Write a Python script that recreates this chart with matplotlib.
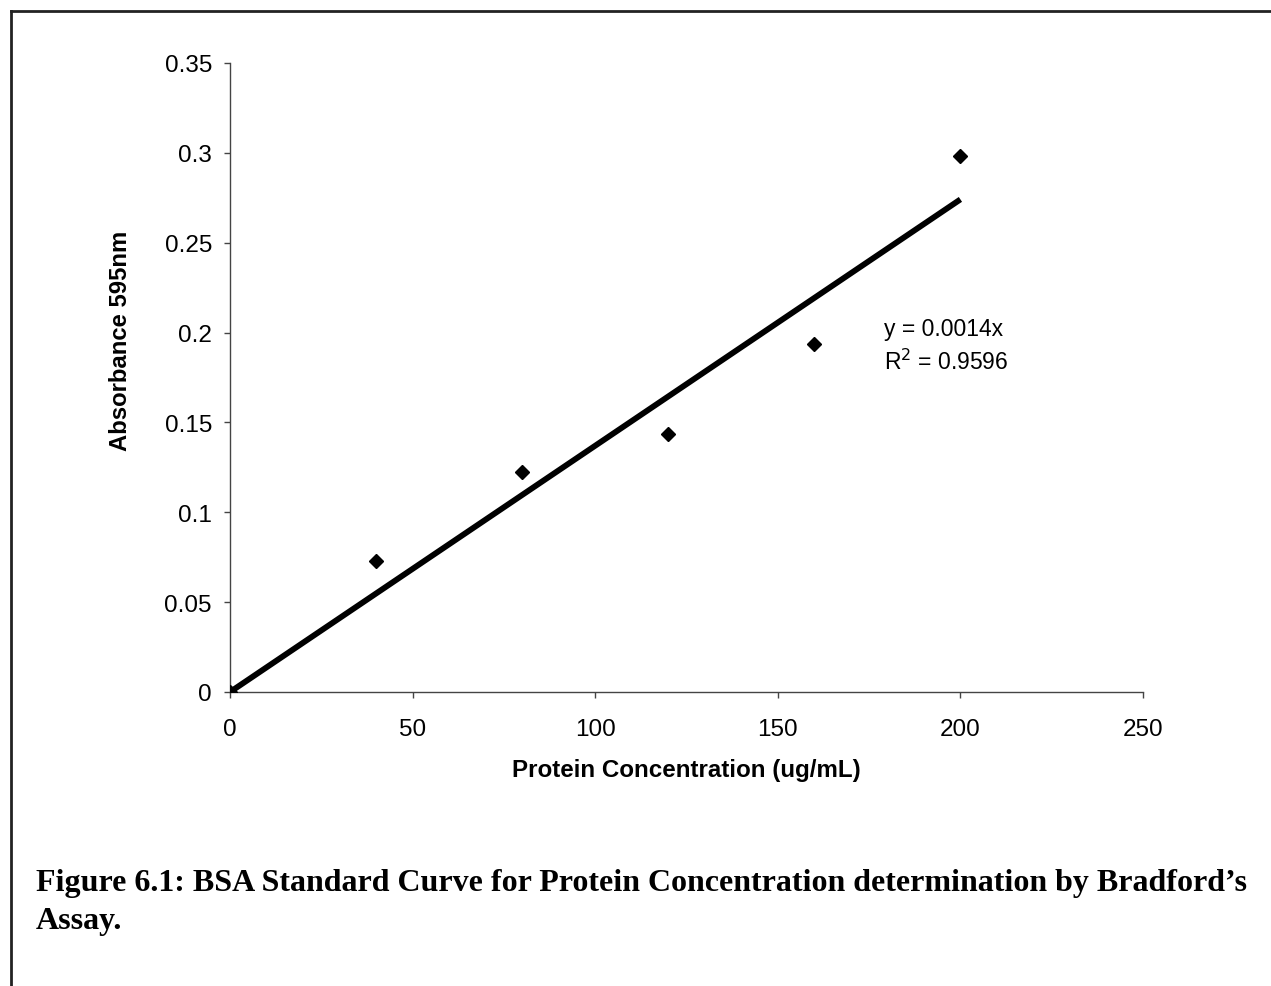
import numpy as np
import matplotlib
matplotlib.use("Agg")
import matplotlib.pyplot as plt
from matplotlib.lines import Line2D

# BSA standards (ug/mL) and measured absorbance at 595 nm
concentration = [0, 40, 80, 120, 160, 200]
absorbance = [0.0, 0.073, 0.1224, 0.1436, 0.1937, 0.2983]
r_squared_text = "0.9596"

x_ticks = [0, 50, 100, 150, 200, 250]
y_ticks = [0, 0.05, 0.1, 0.15, 0.2, 0.25, 0.3, 0.35]
y_tick_labels = ["0", "0.05", "0.1", "0.15", "0.2", "0.25", "0.3", "0.35"]

x_label = "Protein Concentration (ug/mL)"
y_label = "Absorbance 595nm"
caption_lines = [
    "Figure 6.1: BSA Standard Curve for Protein Concentration determination by Bradford\u2019s",
    "Assay.",
]

# Least-squares line forced through the origin
x = np.array(concentration, dtype=float)
y = np.array(absorbance, dtype=float)
slope = float(np.sum(x * y) / np.sum(x * x))

sans = ["Liberation Sans", "DejaVu Sans"]
serif = ["Liberation Serif", "DejaVu Serif"]

fig = plt.figure(figsize=(12.71, 9.87), dpi=100)
fig.patch.set_facecolor("white")

ax = fig.add_axes([0.181, 0.2979, 0.7183, 0.6373])
fit_x = np.array([0, max(concentration)], dtype=float)
ax.plot(fit_x, slope * fit_x, color="black", lw=4.2, solid_capstyle="butt", zorder=2)
ax.plot(concentration, absorbance, linestyle="none", marker="D", markersize=7.5,
        color="black", zorder=3)

ax.set_xlim(0, 250)
ax.set_ylim(0, 0.35)
ax.set_xticks(x_ticks)
ax.set_xticklabels([str(t) for t in x_ticks], fontfamily=sans, fontsize=17.5)
ax.set_yticks(y_ticks)
ax.set_yticklabels(y_tick_labels, fontfamily=sans, fontsize=17.5)
ax.tick_params(axis="both", direction="out", length=4.5, width=1, color="#444444")
ax.tick_params(axis="x", pad=14)
ax.tick_params(axis="y", pad=8.5)
for side in ("top", "right"):
    ax.spines[side].set_visible(False)
for side in ("left", "bottom"):
    ax.spines[side].set_color("#444444")
    ax.spines[side].set_linewidth(1)

ax.set_xlabel(x_label, fontfamily=sans, fontsize=17.4, fontweight="bold", va="center")
ax.xaxis.set_label_coords(0.5, -0.124)
ax.set_ylabel(y_label, fontfamily=sans, fontsize=17.2, fontweight="bold", va="center")
ax.yaxis.set_label_coords(-0.1205, 0.5596)

ax.text(0.7163, 0.5676, f"y = {slope:.4f}x", transform=ax.transAxes,
        fontfamily=sans, fontsize=16.5, va="baseline", ha="left")
ax.text(0.7163, 0.5135, r"R$^{2}$ = " + r_squared_text, transform=ax.transAxes,
        fontfamily=sans, fontsize=16.5, va="baseline", ha="left")

# Caption below the chart
fig.text(36 / 1271, 1 - 884 / 987, caption_lines[0], fontfamily=serif,
         fontsize=23, fontweight="bold", va="center", ha="left")
fig.text(36 / 1271, 1 - 921 / 987, caption_lines[1], fontfamily=serif,
         fontsize=23, fontweight="bold", va="center", ha="left")

# Page frame: top and left rules
fig.add_artist(Line2D([11 / 1271, 1.0], [1 - 12 / 987, 1 - 12 / 987],
                      transform=fig.transFigure, color="#222222", lw=2))
fig.add_artist(Line2D([11 / 1271, 11 / 1271], [0.0, 1 - 12 / 987],
                      transform=fig.transFigure, color="#222222", lw=2))

fig.savefig("out.png", dpi=100, facecolor="white")
